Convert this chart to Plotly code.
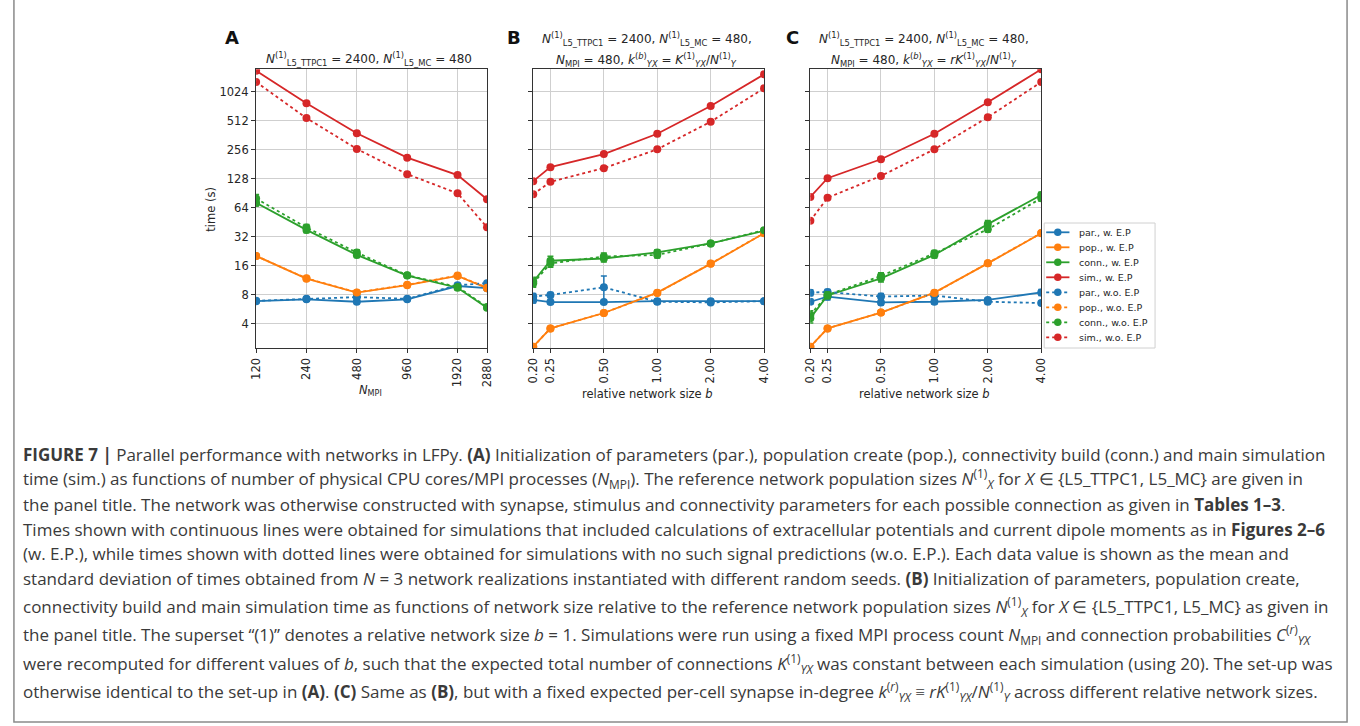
import math
import plotly.graph_objects as go

W, H = 1360, 726

# ---------------- data ----------------
n_mpi = [120, 240, 480, 960, 1920, 2880]
n_mpi_labels = ["120", "240", "480", "960", "1920", "2880"]
b_rel = [0.2, 0.25, 0.5, 1.0, 2.0, 4.0]
b_labels = ["0.20", "0.25", "0.50", "1.00", "2.00", "4.00"]
y_ticks = [4, 8, 16, 32, 64, 128, 256, 512, 1024]
y_tick_labels = ["4", "8", "16", "32", "64", "128", "256", "512", "1024"]

# Panel A (x = N_MPI)
a_par_w = [6.9, 7.2, 6.8, 7.2, 9.9, 9.4]
a_pop_w = [20.3, 11.8, 8.45, 10.1, 12.6, 9.4]
a_conn_w = [72, 37.8, 20.8, 12.7, 9.5, 5.9]
a_sim_w = [1690, 776, 380, 212, 140, 78.5]
a_par_wo = [6.95, 7.3, 7.6, 7.3, 10.1, 10.6]
a_pop_wo = [20.3, 11.9, 8.5, 10.2, 12.7, 9.5]
a_conn_wo = [80, 40, 22, 12.8, 9.7, 6.0]
a_sim_wo = [1290, 546, 261, 143, 90.5, 40.3]
a_par_w_err = [0.3, 0.3, 0.3, 0.2, 0.4, 0.3]
a_par_wo_err = [0.3, 0.3, 0.3, 0.2, 0.4, 0.4]
a_conn_w_err = [5, 2.5, 1.2, 0.6, 0.5, 0.2]
a_conn_wo_err = [8, 3.0, 1.5, 0.6, 0.5, 0.2]

# Panel B (x = relative network size b)
b_par_w = [7.1, 6.75, 6.75, 6.9, 6.9, 6.9]
b_pop_w = [2.33, 3.6, 5.2, 8.45, 16.8, 34.9]
b_conn_w = [11.0, 18.1, 19.1, 22.1, 27.4, 37.0]
b_sim_w = [121, 169, 231, 375, 728, 1550]
b_par_wo = [7.7, 8.0, 9.6, 6.8, 6.7, 6.9]
b_pop_wo = [2.33, 3.6, 5.2, 8.4, 16.9, 35.0]
b_conn_wo = [10.6, 17.0, 20.0, 20.8, 27.4, 37.5]
b_sim_wo = [88.6, 119, 165, 259, 500, 1110]
b_par_w_err = [0.5, 0.3, 0.3, 0.3, 0.3, 0.2]
b_par_wo_err = [0.6, 0.5, 3.0, 0.3, 0.3, 0.2]
b_conn_w_err = [1.2, 2.0, 1.5, 1.5, 1.0, 1.0]
b_conn_wo_err = [1.0, 1.5, 1.8, 1.5, 1.0, 1.0]

# Panel C (x = relative network size b)
c_par_w = [6.8, 7.7, 6.7, 6.8, 7.1, 8.5]
c_pop_w = [2.33, 3.6, 5.25, 8.45, 17.0, 34.9]
c_conn_w = [4.6, 7.9, 11.9, 20.8, 43.4, 87]
c_sim_w = [83, 130, 204, 375, 795, 1745]
c_par_wo = [8.45, 8.6, 7.7, 7.9, 6.8, 6.6]
c_pop_wo = [2.33, 3.6, 5.25, 8.4, 17.1, 35.0]
c_conn_wo = [5.0, 8.0, 12.6, 21.6, 38.4, 80.5]
c_sim_wo = [47, 81.5, 137, 259, 556, 1290]
c_par_w_err = [0.4, 0.6, 0.4, 0.4, 0.4, 0.6]
c_par_wo_err = [0.6, 0.5, 0.6, 0.4, 0.3, 0.3]
c_conn_w_err = [0.5, 0.6, 1.0, 1.5, 4.0, 6.0]
c_conn_wo_err = [0.5, 0.6, 1.0, 1.5, 2.5, 5.0]

series_names = ["par.", "pop.", "conn.", "sim."]
variant_names = ["w. E.P", "w.o. E.P"]
colors = ["#1f77b4", "#ff7f0e", "#2ca02c", "#d62728"]

caption_lines = [
    "<b>FIGURE 7 |</b> Parallel performance with networks in LFPy. <b>(A)</b> Initialization of parameters (par.), population create (pop.), connectivity build (conn.) and main simulation",
    "time (sim.) as functions of number of physical CPU cores/MPI processes (<i>N</i><sub>MPI</sub>). The reference network population sizes <i>N</i><sup>(1)</sup><sub><i>X</i></sub> for <i>X</i> ∈ {L5_TTPC1, L5_MC} are given in",
    "the panel title. The network was otherwise constructed with synapse, stimulus and connectivity parameters for each possible connection as given in <b>Tables 1–3</b>.",
    "Times shown with continuous lines were obtained for simulations that included calculations of extracellular potentials and current dipole moments as in <b>Figures 2–6</b>",
    "(w. E.P.), while times shown with dotted lines were obtained for simulations with no such signal predictions (w.o. E.P.). Each data value is shown as the mean and",
    "standard deviation of times obtained from <i>N</i> = 3 network realizations instantiated with different random seeds. <b>(B)</b> Initialization of parameters, population create,",
    "connectivity build and main simulation time as functions of network size relative to the reference network population sizes <i>N</i><sup>(1)</sup><sub><i>X</i></sub> for <i>X</i> ∈ {L5_TTPC1, L5_MC} as given in",
    "the panel title. The superset “(1)” denotes a relative network size <i>b</i> = 1. Simulations were run using a fixed MPI process count <i>N</i><sub>MPI</sub> and connection probabilities <i>C</i><sup>(<i>r</i>)</sup><sub><i>YX</i></sub>",
    "were recomputed for different values of <i>b</i>, such that the expected total number of connections <i>K</i><sup>(1)</sup><sub><i>YX</i></sub> was constant between each simulation (using 20). The set-up was",
    "otherwise identical to the set-up in <b>(A)</b>. <b>(C)</b> Same as <b>(B)</b>, but with a fixed expected per-cell synapse in-degree <i>k</i><sup>(<i>r</i>)</sup><sub><i>YX</i></sub> ≡ <i>rK</i><sup>(1)</sup><sub><i>YX</i></sub>/<i>N</i><sup>(1)</sup><sub><i>Y</i></sub> across different relative network sizes.",
]
caption_y = [454, 479, 504, 529, 553, 578, 606, 634, 663, 691]

# ---------------- figure ----------------
fig = go.Figure()

panels = [
    ("x", "y", n_mpi,
     [a_par_w, a_pop_w, a_conn_w, a_sim_w],
     [a_par_wo, a_pop_wo, a_conn_wo, a_sim_wo],
     [a_par_w_err, None, a_conn_w_err, None],
     [a_par_wo_err, None, a_conn_wo_err, None]),
    ("x2", "y2", b_rel,
     [b_par_w, b_pop_w, b_conn_w, b_sim_w],
     [b_par_wo, b_pop_wo, b_conn_wo, b_sim_wo],
     [b_par_w_err, None, b_conn_w_err, None],
     [b_par_wo_err, None, b_conn_wo_err, None]),
    ("x3", "y3", b_rel,
     [c_par_w, c_pop_w, c_conn_w, c_sim_w],
     [c_par_wo, c_pop_wo, c_conn_wo, c_sim_wo],
     [c_par_w_err, None, c_conn_w_err, None],
     [c_par_wo_err, None, c_conn_wo_err, None]),
]

dashes = ["solid", "dot"]
for pi, (xa, ya, xs, ys_w, ys_wo, e_w, e_wo) in enumerate(panels):
    for vi, (ys_set, errs) in enumerate([(ys_w, e_w), (ys_wo, e_wo)]):
        for si in range(4):
            err = errs[si]
            fig.add_trace(go.Scatter(
                x=xs, y=ys_set[si], xaxis=xa, yaxis=ya,
                mode="lines+markers",
                name=f"{series_names[si]}, {variant_names[vi]}",
                showlegend=False,
                line=dict(color=colors[si], width=1.8, dash=dashes[vi]),
                marker=dict(color=colors[si], size=8, symbol="circle"),
                error_y=(dict(type="data", array=err, visible=True, color=colors[si],
                              thickness=1.5, width=3) if err is not None else None),
            ))

# axes geometry (pixels)
left = [251.7, 531.7, 811.7]
pw = 233.3
top_px, bot_px = 69.3, 348.3
yrange = [math.log10(2.239), math.log10(1747)]

axis_common = dict(showgrid=True, gridcolor="#cfcfcf", gridwidth=1.3,
                   showline=True, linecolor="#333333", linewidth=1.2, mirror=True,
                   ticks="outside", ticklen=4, tickwidth=1, tickcolor="#333333",
                   tickfont=dict(family="DejaVu Sans", size=11.5, color="#262626"),
                   zeroline=False)

for i in range(3):
    xname = "xaxis" if i == 0 else f"xaxis{i+1}"
    yname = "yaxis" if i == 0 else f"yaxis{i+1}"
    if i == 0:
        xr = [math.log10(120), math.log10(2880)]
        tv, tt = n_mpi, n_mpi_labels
    else:
        xr = [math.log10(0.2), math.log10(4.0)]
        tv, tt = b_rel, b_labels
    fig.layout[xname] = dict(axis_common, type="log", range=xr,
                             domain=[left[i] / W, (left[i] + pw) / W],
                             tickvals=tv, ticktext=tt, tickangle=-90,
                             anchor=("y" if i == 0 else f"y{i+1}"))
    fig.layout[yname] = dict(axis_common, type="log", range=yrange,
                             domain=[1 - bot_px / H, 1 - top_px / H],
                             tickvals=y_ticks, ticktext=y_tick_labels,
                             showticklabels=(i == 0),
                             anchor=("x" if i == 0 else f"x{i+1}"))


def px(x):
    return x / W


def py(y):
    return 1 - y / H


ann = []
shapes = []
chart_font = dict(family="DejaVu Sans", size=12, color="#262626")
# panel letters
for letter, xl in [("A", 227), ("B", 512), ("C", 794)]:
    ann.append(dict(text=f"<b>{letter}</b>", x=px(xl), y=py(37), xref="paper", yref="paper",
                    showarrow=False, xanchor="center", yanchor="middle",
                    font=dict(family="DejaVu Sans", size=18, color="#111111")))
# panel titles
ann.append(dict(text="<i>N</i><sup>(1)</sup><sub>L5_TTPC1</sub> = 2400, <i>N</i><sup>(1)</sup><sub>L5_MC</sub> = 480",
                x=px(366), y=py(59), xref="paper", yref="paper", showarrow=False,
                xanchor="center", yanchor="middle", font=chart_font))
for ci, kexpr in [(646.5, "<i>K</i><sup>(1)</sup><sub><i>YX</i></sub>/<i>N</i><sup>(1)</sup><sub><i>Y</i></sub>"),
                  (926.5, "<i>rK</i><sup>(1)</sup><sub><i>YX</i></sub>/<i>N</i><sup>(1)</sup><sub><i>Y</i></sub>")]:
    ann.append(dict(text="<i>N</i><sup>(1)</sup><sub>L5_TTPC1</sub> = 2400, <i>N</i><sup>(1)</sup><sub>L5_MC</sub> = 480,",
                    x=px(ci), y=py(39), xref="paper", yref="paper", showarrow=False,
                    xanchor="center", yanchor="middle", font=chart_font))
    ann.append(dict(text="<i>N</i><sub>MPI</sub> = 480, <i>k</i><sup>(<i>b</i>)</sup><sub><i>YX</i></sub> = " + kexpr,
                    x=px(ci), y=py(60), xref="paper", yref="paper", showarrow=False,
                    xanchor="center", yanchor="middle", font=chart_font))
# axis titles
ann.append(dict(text="time (s)", x=px(206), y=py(208.8), xref="paper", yref="paper",
                showarrow=False, textangle=-90, xanchor="center", yanchor="middle",
                font=dict(family="DejaVu Sans", size=11.5, color="#262626")))
ann.append(dict(text="<i>N</i><sub>MPI</sub>", x=px(367), y=py(391), xref="paper", yref="paper",
                showarrow=False, xanchor="center", yanchor="middle",
                font=dict(family="DejaVu Sans", size=11.5, color="#262626")))
for cx in [647, 927]:
    ann.append(dict(text="relative network size <i>b</i>", x=px(cx), y=py(394), xref="paper", yref="paper",
                    showarrow=False, xanchor="center", yanchor="middle",
                    font=dict(family="DejaVu Sans", size=11.5, color="#262626")))

# legend (drawn as layout shapes + text, matplotlib style)
leg_x0, leg_x1, leg_y0, leg_y1 = 1048, 1160, 223, 348
shapes.append(dict(type="rect", xref="paper", yref="paper",
                   x0=px(leg_x0), x1=px(leg_x1), y0=py(leg_y1), y1=py(leg_y0),
                   line=dict(color="#d0d0d0", width=1), fillcolor="white", layer="above"))
k = 0
for vi in range(2):
    for si in range(4):
        ly = 232.3 + 15.0 * k
        shapes.append(dict(type="line", xref="paper", yref="paper",
                           x0=px(1050), x1=px(1073.5), y0=py(ly), y1=py(ly),
                           line=dict(color=colors[si], width=1.8, dash=dashes[vi]), layer="above"))
        shapes.append(dict(type="circle", xref="paper", yref="paper",
                           x0=px(1061.7 - 3.8), x1=px(1061.7 + 3.8),
                           y0=py(ly + 3.8), y1=py(ly - 3.8),
                           line=dict(color=colors[si], width=0), fillcolor=colors[si], layer="above"))
        ann.append(dict(text=f"{series_names[si]}, {variant_names[vi]}", x=px(1081), y=py(ly),
                        xref="paper", yref="paper", showarrow=False, xanchor="left", yanchor="middle",
                        font=dict(family="DejaVu Sans", size=9.5, color="#262626")))
        k += 1

# caption
for line, yy in zip(caption_lines, caption_y):
    ann.append(dict(text=line, x=px(14), y=py(yy), xref="paper", yref="paper",
                    showarrow=False, xanchor="left", yanchor="middle", align="left",
                    font=dict(family="Open Sans", size=17, color="#3a3a3a")))

shapes.append(dict(type="rect", xref="paper", yref="paper",
                   x0=px(7), x1=px(1354), y0=py(722), y1=1.05,
                   line=dict(color="#8a8a8a", width=1.5)))

fig.update_layout(
    width=W, height=H, autosize=False,
    margin=dict(l=0, r=0, t=0, b=0),
    paper_bgcolor="white", plot_bgcolor="white",
    annotations=ann,
    shapes=shapes,
    showlegend=False,
)

fig.write_html("out.html", config={"displayModeBar": False},
               post_script="document.body.style.margin='0px';document.body.style.overflow='hidden';")
